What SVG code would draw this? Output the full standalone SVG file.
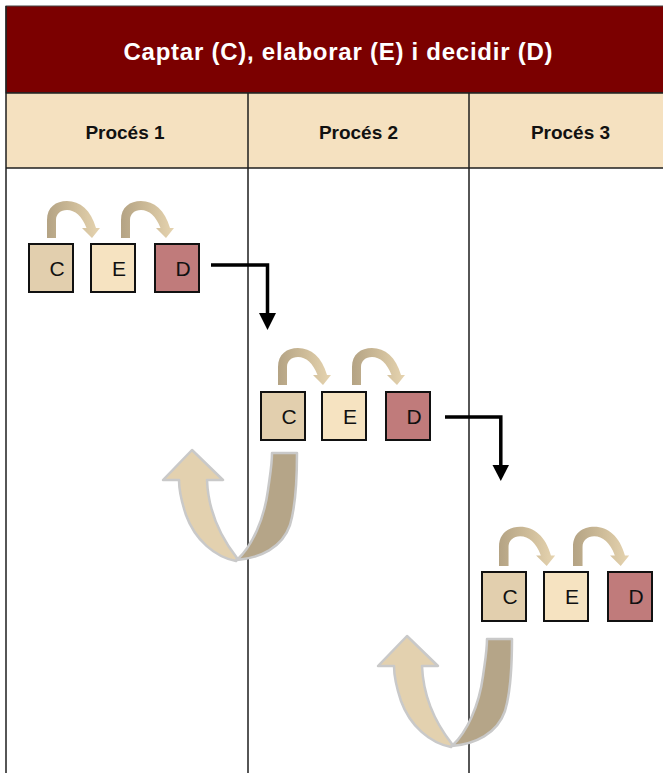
<svg xmlns="http://www.w3.org/2000/svg" width="663" height="773" viewBox="0 0 663 773">
<defs>
<linearGradient id="arcGrad" x1="0" y1="0" x2="1" y2="0">
<stop offset="0" stop-color="#B4A384"/>
<stop offset="0.5" stop-color="#CDBB98"/>
<stop offset="1" stop-color="#E6D4B0"/>
</linearGradient>
<path id="arc" d="M0,0 L0,-18 C0,-31 9,-37 20,-37 C33,-37 44,-28 49,-10 L53,-10 L45,0 L35,-10 L39.5,-10 C35,-22 28,-28 20,-28 C13.5,-28 9,-24 9,-18 L9,0 Z" fill="url(#arcGrad)"/>
<g id="uturn">
<path class="uband" d="M272,453 L297,453 C297,480 296,505 290,525 C282,548 260,558 237,560 C252,546 264,520 268,490 C270,475 272,465 272,453 Z" fill="#B5A588"/>
<path class="uband" d="M192,450 L223,480 L207,480 C208,505 215,530 237,558 L236,561 C215,557 195,540 186,515 C182,503 179,492 179,480 L163,480 Z" fill="#E3D1AF"/>
</g>
</defs>
<style>
.line{stroke:#1E1E1E;stroke-width:1.5;fill:none}
.box{stroke:#111;stroke-width:2}
.c{fill:#E2CFAE}
.e{fill:#F6E3C1}
.d{fill:#C07B7B}
.lt{font-family:"Liberation Sans",Arial,sans-serif;font-size:21px;fill:#111;text-anchor:middle}
.hdr{font-family:"Liberation Sans",Arial,sans-serif;font-size:19px;font-weight:bold;fill:#111;text-anchor:middle}
.ttl{font-family:"Liberation Sans",Arial,sans-serif;font-size:24px;font-weight:bold;fill:#FFFFFF;text-anchor:middle}
.conn{stroke:#000;stroke-width:3.5;fill:none}
.uband{stroke:#C9C9C9;stroke-width:2.5;stroke-linejoin:round}
</style>
<rect x="0" y="0" width="663" height="773" fill="#FFFFFF"/>

<g id="table">
<rect x="6" y="6" width="670" height="87" fill="#7B0000" stroke="#444" stroke-width="1"/>
<rect x="6" y="93" width="670" height="75" fill="#F5E1C0"/>
<line class="line" x1="6" y1="93" x2="663" y2="93"/>
<line class="line" x1="6" y1="168" x2="663" y2="168"/>
<line class="line" x1="6" y1="6" x2="6" y2="773"/>
<line class="line" x1="248" y1="93" x2="248" y2="773"/>
<line class="line" x1="469" y1="93" x2="469" y2="773"/>
<text class="ttl" x="338" y="60" textLength="429" lengthAdjust="spacing">Captar (C), elaborar (E) i decidir (D)</text>
<text class="hdr" x="125" y="139">Procés 1</text>
<text class="hdr" x="358.5" y="139">Procés 2</text>
<text class="hdr" x="570.5" y="139">Procés 3</text>
</g>

<g id="connectors">
<use href="#arc" transform="translate(47,238)"/>
<use href="#arc" transform="translate(121,238)"/>
<use href="#arc" transform="translate(278,385)"/>
<use href="#arc" transform="translate(352,385)"/>
<use href="#arc" transform="translate(499,566) scale(1.06)"/>
<use href="#arc" transform="translate(573,566) scale(1.06)"/>
<path class="conn" d="M211,265 H267.5 V315"/>
<polygon points="259,313 276,313 267.5,330" fill="#000"/>
<path class="conn" d="M445,417 H500.8 V467"/>
<polygon points="492.5,465 509,465 500.8,481" fill="#000"/>
<use href="#uturn"/>
<use href="#uturn" transform="translate(215,186)"/>
</g>

<g id="p1-C"><rect class="box c" x="29" y="244" width="44" height="48"/><text class="lt" x="57" y="276">C</text></g>
<g id="p1-E"><rect class="box e" x="91" y="244" width="44" height="48"/><text class="lt" x="119" y="276">E</text></g>
<g id="p1-D"><rect class="box d" x="155" y="244" width="44" height="48"/><text class="lt" x="183" y="276">D</text></g>

<g id="p2-C"><rect class="box c" x="261" y="392" width="44" height="48"/><text class="lt" x="289" y="424">C</text></g>
<g id="p2-E"><rect class="box e" x="322" y="392" width="44" height="48"/><text class="lt" x="350" y="424">E</text></g>
<g id="p2-D"><rect class="box d" x="386" y="392" width="44" height="48"/><text class="lt" x="414" y="424">D</text></g>

<g id="p3-C"><rect class="box c" x="482" y="572" width="44" height="49"/><text class="lt" x="510" y="604">C</text></g>
<g id="p3-E"><rect class="box e" x="544" y="572" width="44" height="49"/><text class="lt" x="572" y="604">E</text></g>
<g id="p3-D"><rect class="box d" x="608" y="572" width="44" height="49"/><text class="lt" x="636" y="604">D</text></g>
</svg>
